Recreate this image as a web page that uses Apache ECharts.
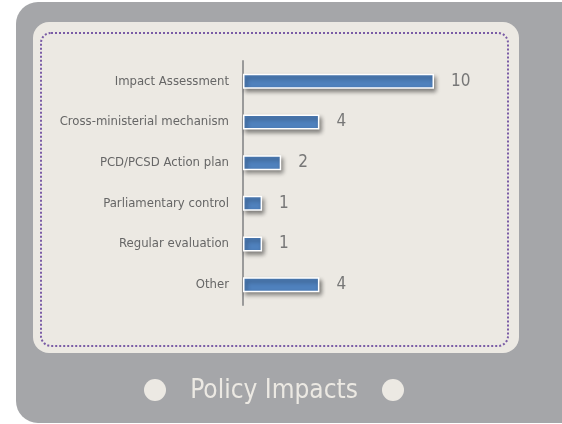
<!DOCTYPE html>
<html>
<head>
<meta charset="utf-8">
<script src="https://cdn.jsdelivr.net/npm/echarts@6/dist/echarts.min.js"></script>
<style>
  html, body { margin: 0; padding: 0; background: #ffffff; }
  #chart { width: 562px; height: 424px; }
</style>
</head>
<body>
<div id="chart"></div>
<script>
// data
var categories = ['Impact Assessment', 'Cross-ministerial mechanism', 'PCD/PCSD Action plan',
  'Parliamentary control', 'Regular evaluation', 'Other'];
var counts = [10, 4, 2, 1, 1, 4];
var titleText = 'Policy Impacts';

var narrow = '"Liberation Sans Narrow", "DejaVu Sans Condensed", sans-serif';

var chart = echarts.init(document.getElementById('chart'));
chart.setOption({
  animation: false,
  graphic: [
    // grey outer card
    { type: 'rect', z: -10, shape: { x: 16, y: 2, width: 580, height: 421, r: 22 },
      style: { fill: '#a5a6a9' } },
    // beige panel
    { type: 'rect', z: -9, shape: { x: 33, y: 22, width: 486, height: 331, r: 16 },
      style: { fill: '#ece9e3' } },
    // dotted border
    { type: 'rect', z: -8, shape: { x: 41, y: 33, width: 467, height: 313, r: 10 },
      style: { fill: null, stroke: '#7a5ca6', lineWidth: 2, lineDash: [2, 2] } },
    // title with dots
    { type: 'circle', shape: { cx: 155, cy: 390, r: 11 }, style: { fill: '#ece9e3' } },
    { type: 'circle', shape: { cx: 393, cy: 390, r: 11 }, style: { fill: '#ece9e3' } },
    { type: 'text', x: 274, y: 391,
      style: { text: titleText, fill: '#ece9e3', font: '26px ' + narrow,
        align: 'center', verticalAlign: 'middle' } }
  ],
  grid: { left: 243, top: 61, width: 267.4, height: 244 },
  xAxis: {
    type: 'value', min: 0, max: 14, show: false
  },
  yAxis: {
    type: 'category',
    data: categories,
    inverse: true,
    axisLine: { show: true, lineStyle: { color: '#9a9a9a', width: 2 } },
    axisTick: { show: false },
    axisLabel: { color: '#666666', fontSize: 13, fontFamily: narrow, margin: 14 }
  },
  series: [{
    type: 'bar',
    data: counts,
    barWidth: 15,
    itemStyle: {
      color: '#4f81bd',
      borderColor: '#ffffff',
      borderWidth: 1.5,
      shadowColor: 'rgba(0,0,0,0.45)',
      shadowBlur: 4,
      shadowOffsetX: 2,
      shadowOffsetY: 3
    },
    label: {
      show: true, position: 'right', distance: 17,
      color: '#777777', fontSize: 17, fontFamily: narrow
    }
  }]
});
</script>
</body>
</html>
